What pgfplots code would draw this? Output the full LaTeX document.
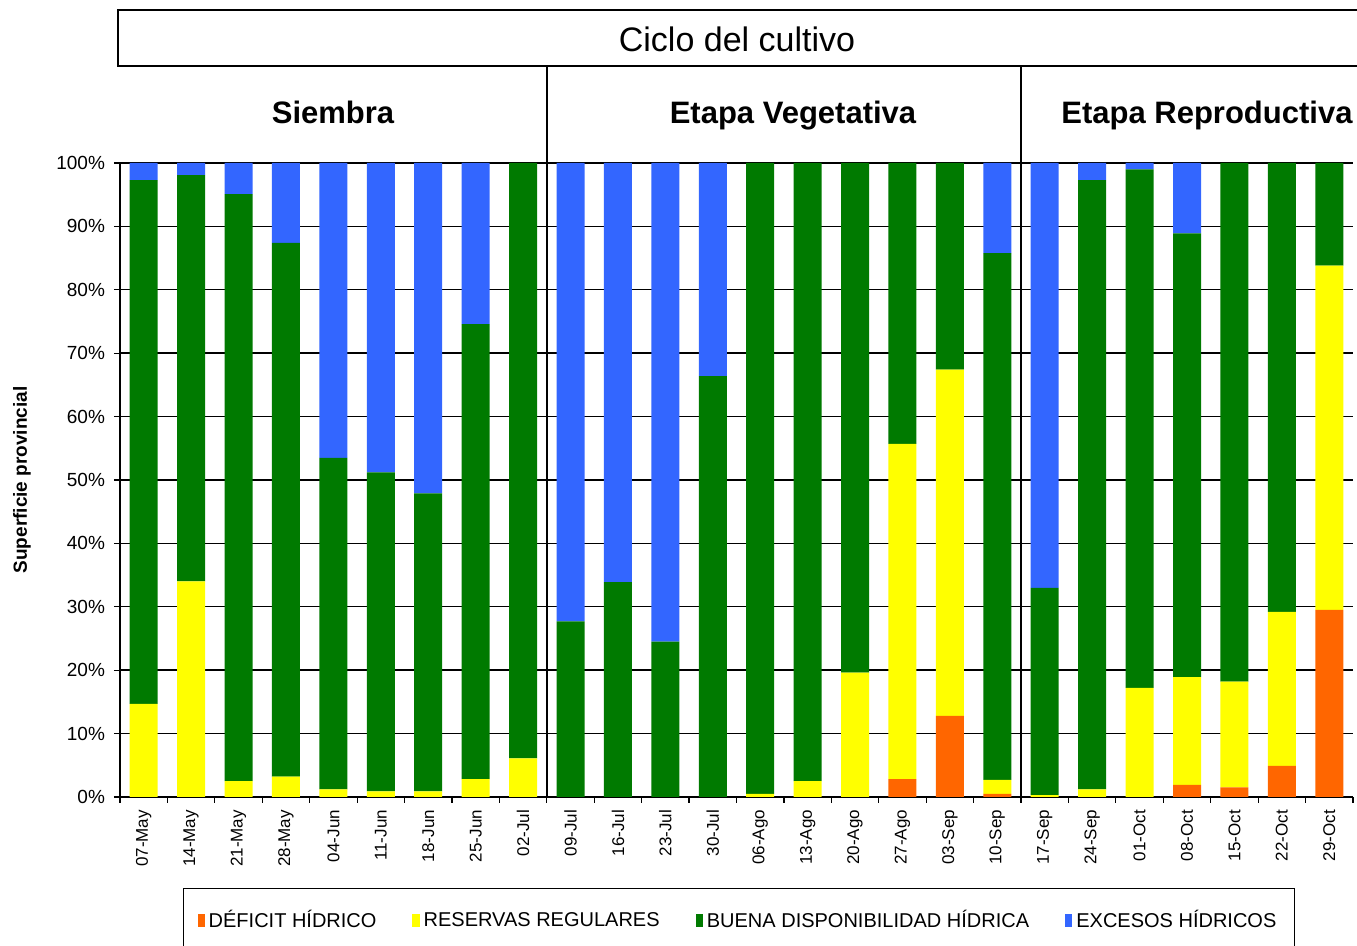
\documentclass[border=0pt]{standalone}
\usepackage{fontspec}
\setmainfont{Liberation Sans}
\usepackage{pgfplots}
\usepackage{pgfplotstable}
\pgfplotsset{compat=1.18}
\definecolor{cDef}{RGB}{255,102,0}
\definecolor{cReg}{RGB}{255,255,0}
\definecolor{cBue}{RGB}{0,122,0}
\definecolor{cExc}{RGB}{51,102,255}
\pgfplotstableread{
x def reg bue exc
0 0 14.7 82.6 2.7
1 0 34.0 64.1 1.9
2 0 2.5 92.6 4.9
3 0 3.2 84.2 12.6
4 0 1.2 52.3 46.5
5 0 0.9 50.3 48.8
6 0 0.9 47.0 52.1
7 0 2.8 71.8 25.4
8 0 6.1 93.9 0
9 0 0 27.7 72.3
10 0 0 33.9 66.1
11 0 0 24.5 75.5
12 0 0 66.4 33.6
13 0 0.5 99.5 0
14 0 2.5 97.5 0
15 0 19.6 80.4 0
16 2.8 52.9 44.3 0
17 12.8 54.6 32.6 0
18 0.5 2.2 83.1 14.2
19 0 0.3 32.7 67.0
20 0 1.2 96.1 2.7
21 0 17.2 81.8 1.0
22 1.9 17.0 70.0 11.1
23 1.5 16.7 81.8 0
24 4.9 24.3 70.8 0
25 29.5 54.3 16.2 0
}\datatable
\begin{document}
\begin{tikzpicture}
\useasboundingbox (-60pt,-74.5pt) rectangle (618.5pt,398.5pt);
\begin{axis}[
  width=616.5pt, height=317pt, scale only axis,
  xmin=-0.5, xmax=25.5, ymin=0, ymax=100,
  ybar stacked, bar width=14pt,
  axis x line=bottom, axis y line=left,
  axis line style={-, line width=0.8pt, black},
  ytick={0,10,...,100},
  yticklabel={\pgfmathprintnumber{\tick}\%},
  ymajorgrids, grid style={black, line width=0.7pt},
  xtick={0,...,25},
  xticklabels={07-May,14-May,21-May,28-May,04-Jun,11-Jun,18-Jun,25-Jun,02-Jul,09-Jul,16-Jul,23-Jul,30-Jul,06-Ago,13-Ago,20-Ago,27-Ago,03-Sep,10-Sep,17-Sep,24-Sep,01-Oct,08-Oct,15-Oct,22-Oct,29-Oct},
  minor xtick={-0.5,0.5,...,25.5},
  major x tick style={draw=none},
  tick align=outside, major tick length=3pt, minor tick length=3pt,
  tick style={black, line width=0.6pt},
  /pgf/number format/assume math mode=true,
  xticklabel style={rotate=90, anchor=east, font=\fontsize{8.5}{10}\selectfont},
  yticklabel style={font=\fontsize{9.5}{11}\selectfont, xshift=-1pt},
  ylabel={\textbf{Superficie provincial}},
  ylabel style={at={(axis description cs:-0.0795,0.5)}, anchor=center, font=\fontsize{9.5}{11}\selectfont},
  legend columns=4,
  legend cell align=left,
  legend image code/.code={\path[#1] (0pt,-3.2pt) rectangle (3.6pt,3.2pt);},
  legend style={at={(0.502,-0.1435)}, anchor=north, draw=black, line width=0.6pt,
    inner ysep=9pt, inner xsep=7pt, font=\fontsize{10}{12}\selectfont,
    /tikz/every even column/.append style={column sep=16pt}},
]
\addplot[fill=cDef, draw=none] table[x=x,y=def]{\datatable};
\addplot[fill=cReg, draw=none] table[x=x,y=reg]{\datatable};
\addplot[fill=cBue, draw=none] table[x=x,y=bue]{\datatable};
\addplot[fill=cExc, draw=none] table[x=x,y=exc]{\datatable};
\legend{DÉFICIT HÍDRICO, RESERVAS REGULARES, BUENA DISPONIBILIDAD HÍDRICA, EXCESOS HÍDRICOS}
\coordinate (d1) at (axis cs:8.5,0);
\coordinate (d2) at (axis cs:18.5,0);
\end{axis}
\draw[line width=0.7pt] (d1) -- ++(0,365.5pt);
\draw[line width=0.7pt] (d2) -- ++(0,365.5pt);
\draw[line width=0.8pt] (-1pt,365.5pt) rectangle (640pt,393.5pt);
\node[anchor=base] at (308.5pt,372.5pt) {\fontsize{17}{20}\selectfont Ciclo del cultivo};
\node[anchor=base] at (106.5pt,336.5pt) {\fontsize{15.5}{18}\selectfont\bfseries Siembra};
\node[anchor=base] at (336.5pt,336.5pt) {\fontsize{15.5}{18}\selectfont\bfseries Etapa Vegetativa};
\node[anchor=base] at (543.5pt,336.5pt) {\fontsize{15.5}{18}\selectfont\bfseries Etapa Reproductiva};
\end{tikzpicture}
\end{document}
